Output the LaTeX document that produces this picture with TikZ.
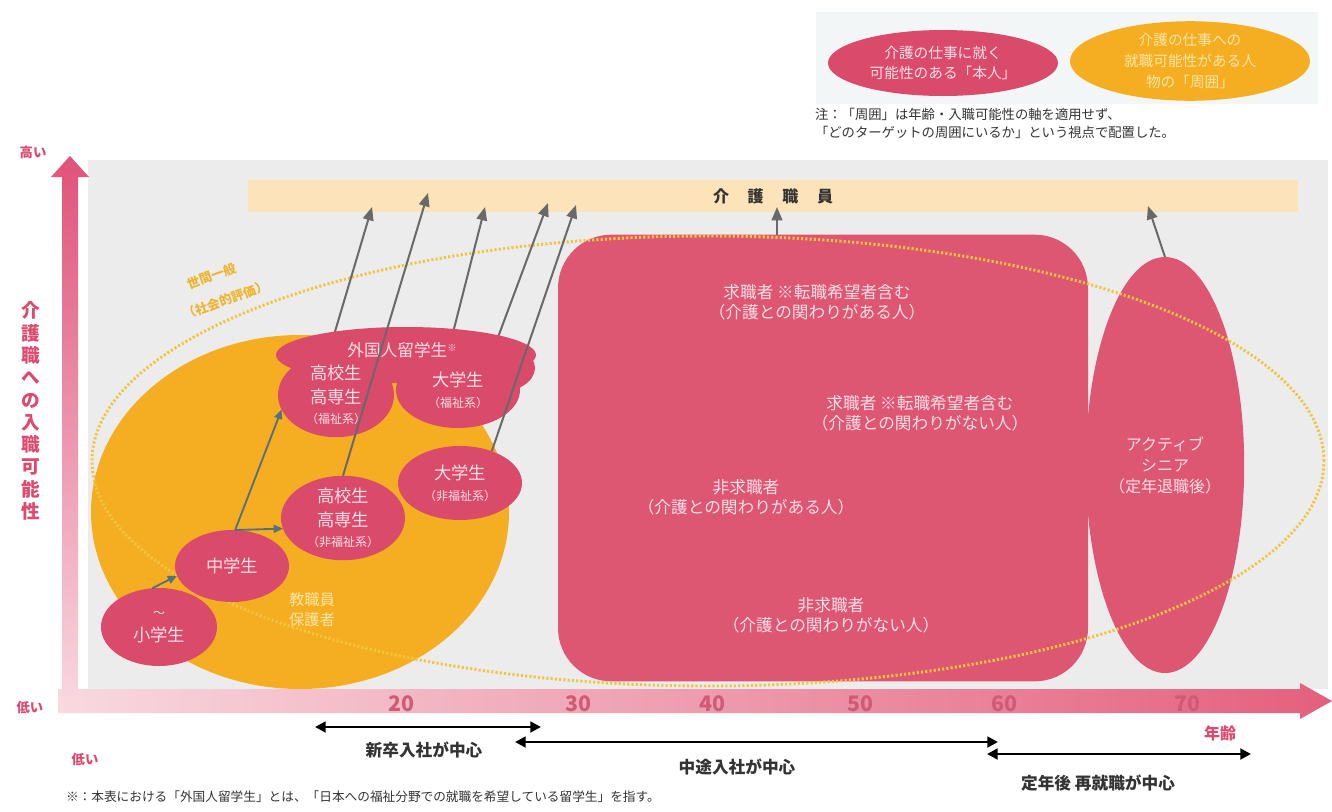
\documentclass[tikz,border=0pt]{standalone}
\usepackage{fontspec}
\setmainfont{Noto Sans CJK JP}
\usetikzlibrary{shapes.geometric,arrows.meta}
\definecolor{panelgray}{HTML}{ECECEC}
\definecolor{rosered}{HTML}{DA4A6A}
\definecolor{boxred}{HTML}{DD5672}
\definecolor{amber}{HTML}{F5AE22}
\definecolor{peach}{HTML}{FDE3BA}
\definecolor{nodetxt}{HTML}{FADFE6}
\definecolor{axispink}{HTML}{CF5B76}
\definecolor{labelpink}{HTML}{DC4A6E}
\definecolor{arrowgray}{HTML}{696969}
\definecolor{dotyellow}{HTML}{F2C53F}
\definecolor{stepteal}{HTML}{55707E}
\definecolor{legendbg}{HTML}{F3F6F7}
\definecolor{paletext}{HTML}{FCE6A6}
\definecolor{societytxt}{HTML}{EFB42E}
\definecolor{notetxt}{HTML}{333333}
\definecolor{haxlight}{HTML}{F8D9E0}
\definecolor{haxdeep}{HTML}{E4607D}
\definecolor{vaxdeep}{HTML}{E0527A}
\definecolor{vaxlight}{HTML}{F8D6DF}
\pgfdeclarelayer{base}
\pgfdeclarelayer{under}
\pgfsetlayers{base,under,main}
\begin{document}
\begin{tikzpicture}[x=0.75pt,y=-0.75pt,
  every node/.style={inner sep=0pt,outer sep=0pt},
  person/.style={ellipse,fill=rosered,text=nodetxt,align=center,font=\fontsize{13}{17.5}\selectfont},
  boxtext/.style={text=nodetxt,align=center,font=\fontsize{12.5}{15}\selectfont},
  uparrow/.style={draw=arrowgray,line width=1.5pt,-{Triangle[length=10pt,width=8pt]}},
  steparrow/.style={draw=stepteal,line width=1.4pt,-{Triangle[length=7pt,width=6pt]}},
  spanarrow/.style={draw=black,line width=2.2pt,{Triangle[length=8pt,width=8pt]}-{Triangle[length=8pt,width=8pt]}},
  bottomlabel/.style={font=\fontsize{12.5}{15}\selectfont\bfseries,text=notetxt},
  axislabel/.style={font=\fontsize{10}{12}\selectfont\bfseries,text=labelpink},
  agenum/.style={font=\fontsize{16}{18}\selectfont\bfseries,text=axispink},
  societytext/.style={text=societytxt,rotate=20,font=\fontsize{9.5}{12}\selectfont\bfseries}
]
\useasboundingbox (0,0) rectangle (1332,811);
\begin{pgfonlayer}{base}
\fill[white] (0,0) rectangle (1332,811);
% legend
\fill[legendbg] (816,12) rectangle (1318,104);
% panel
\fill[panelgray] (88,160) rectangle (1328,689);
% axes
\shade[left color=haxlight,right color=haxdeep] (58,689) -- (1300,689) -- (1300,683) -- (1332,701) -- (1300,719) -- (1300,713) -- (58,713) -- cycle;
\shade[top color=vaxdeep,bottom color=vaxlight] (62,697) -- (62,177) -- (51,177) -- (70,156) -- (89,177) -- (78,177) -- (78,697) -- cycle;
% target band
\node[fill=peach,minimum width=787.5pt,minimum height=24pt,font=\fontsize{12}{14}\selectfont\bfseries,text=notetxt] (carestaff) at (773,196) {介\hspace{14pt}護\hspace{14pt}職\hspace{14pt}員};
% big regions
\node[fill=boxred,rounded corners=40pt,minimum width=397.5pt,minimum height=335pt] (seekers) at (823,458) {};
\node[ellipse,fill=boxred,text=nodetxt,align=center,font=\fontsize{12}{15.75}\selectfont,minimum width=114pt,minimum height=312pt] (senior) at (1165,465) {アクティブ\\シニア\\（定年退職後）};
\node[ellipse,fill=amber,minimum width=313.5pt,minimum height=265.5pt] (guardians) at (300,512) {};
\node[ellipse,draw=dotyellow,line width=2.2pt,dash pattern=on 1.6pt off 1.6pt,minimum width=924pt,minimum height=337.5pt] (society) at (708,461) {};
\end{pgfonlayer}

% legend ellipses
\node[ellipse,fill=rosered,minimum width=172.5pt,minimum height=49.5pt,text=nodetxt,align=center,font=\fontsize{11}{15.5}\selectfont] (legself) at (943,63) {介護の仕事に就く\\可能性のある「本人」};
\node[ellipse,fill=amber,minimum width=180pt,minimum height=55.5pt,text=paletext,align=center,font=\fontsize{11}{16}\selectfont] (legaround) at (1190,61) {介護の仕事への\\就職可能性がある人\\物の「周囲」};
\node[anchor=north west,align=left,text=notetxt,font=\fontsize{10}{14}\selectfont] (legnote) at (815,108) {注：「周囲」は年齢・入職可能性の軸を適用せず、\\「どのターゲットの周囲にいるか」という視点で配置した。};

% cloud of foreign students
\fill[rosered] (406,355) ellipse [x radius=130, y radius=28];
\fill[rosered] (495,368) ellipse [x radius=40, y radius=25];
\node[person,minimum width=87pt,minimum height=60pt] (hsw) at (336,395) {高校生\\高専生\\[-2pt]{\fontsize{9}{11}\selectfont（福祉系）}};
\node[person,minimum width=93pt,minimum height=57pt] (usw) at (458,390) {大学生\\[-2pt]{\fontsize{9}{11}\selectfont（福祉系）}};
\node[text=nodetxt,font=\fontsize{12.5}{15}\selectfont] (foreign) at (402,350) {外国人留学生{\fontsize{7}{7}\selectfont\raisebox{4pt}{※}}};

% other student ellipses
\node[person,minimum width=93pt,minimum height=58.5pt] (hnw) at (343,518) {高校生\\高専生\\[-2pt]{\fontsize{9}{11}\selectfont（非福祉系）}};
\node[person,minimum width=93pt,minimum height=55.5pt] (unw) at (460,483) {大学生\\[-2pt]{\fontsize{9}{11}\selectfont（非福祉系）}};
\node[person,minimum width=85.5pt,minimum height=54pt] (junior) at (232,566) {中学生};
\node[person,minimum width=87pt,minimum height=58.5pt] (primary) at (159,627) {{\fontsize{9}{9}\selectfont ～}\\小学生};

% text in big box
\node[boxtext] (seekA) at (817,302) {求職者 ※転職希望者含む\\（介護との関わりがある人）};
\node[boxtext] (seekB) at (920,413) {求職者 ※転職希望者含む\\（介護との関わりがない人）};
\node[boxtext] (nonA) at (746,497) {非求職者\\（介護との関わりがある人）};
\node[boxtext] (nonB) at (831,615) {非求職者\\（介護との関わりがない人）};

% labels in regions
\node[text=paletext,align=center,font=\fontsize{11.5}{15}\selectfont] (teachers) at (312,610) {教職員\\保護者};
\node[societytext] (societyA) at (212,276) {世間一般};
\node[societytext] (societyB) at (226,300) {（社会的評価）};

% arrow tips
\coordinate (t1) at (372,207);
\coordinate (t2) at (428,193);
\coordinate (t3) at (485,207);
\coordinate (t4) at (548,203);
\coordinate (t5) at (576,205);
\coordinate (t6) at (777,207);
\coordinate (t7) at (1148,206);

\begin{pgfonlayer}{under}
\draw[uparrow] (hsw.100) -- (t1);
\draw[uparrow] (usw.105) -- (t3);
\draw[uparrow] (usw.45) -- (t4);
\end{pgfonlayer}
\draw[uparrow] (hnw.north) -- (t2);
\draw[uparrow] (unw.45) -- (t5);
\draw[uparrow] (t6 |- seekers.north) -- (t6);
\draw[uparrow] (senior.north) -- (t7);

\draw[steparrow] (primary.100) -- (junior.190);
\draw[steparrow] (junior.85) -- (hnw.190);
\draw[steparrow] (junior.85) -- (hsw.195);

% axis labels
\node[axislabel] (high) at (33,152) {高い};
\node[axislabel] (lowy) at (30,707) {低い};
\node[axislabel] (lowx) at (85,759) {低い};
\node[axislabel,font=\fontsize{12}{14}\selectfont\bfseries] (age) at (1220,733) {年齢};
\node[align=center,text=labelpink,font=\fontsize{14}{16.7}\selectfont\bfseries] (ytitle) at (31,411) {介\\護\\職\\へ\\の\\入\\職\\可\\能\\性};
\node[agenum] (a20) at (401,704) {20};
\node[agenum] (a30) at (578,704) {30};
\node[agenum] (a40) at (712,704) {40};
\node[agenum] (a50) at (860,704) {50};
\node[agenum] (a60) at (1004,704) {60};
\node[agenum] (a70) at (1187,704) {70};

% hiring spans
\coordinate (newL) at (315,727);
\coordinate (newR) at (541,727);
\coordinate (midL) at (515,742);
\coordinate (midR) at (998,742);
\coordinate (retL) at (987,754);
\coordinate (retR) at (1251,754);
\draw[spanarrow] (newL) -- (newR);
\draw[spanarrow] (midL) -- (midR);
\draw[spanarrow] (retL) -- (retR);
\node[bottomlabel] (newlabel) at (424,750) {新卒入社が中心};
\node[bottomlabel] (midlabel) at (737,767) {中途入社が中心};
\node[bottomlabel] (retlabel) at (1098,783) {定年後 再就職が中心};

% footnote
\node[anchor=west,text=notetxt,font=\fontsize{9.5}{12}\selectfont] (footnote) at (66,797) {※：本表における「外国人留学生」とは、「日本への福祉分野での就職を希望している留学生」を指す。};
\end{tikzpicture}
\end{document}
